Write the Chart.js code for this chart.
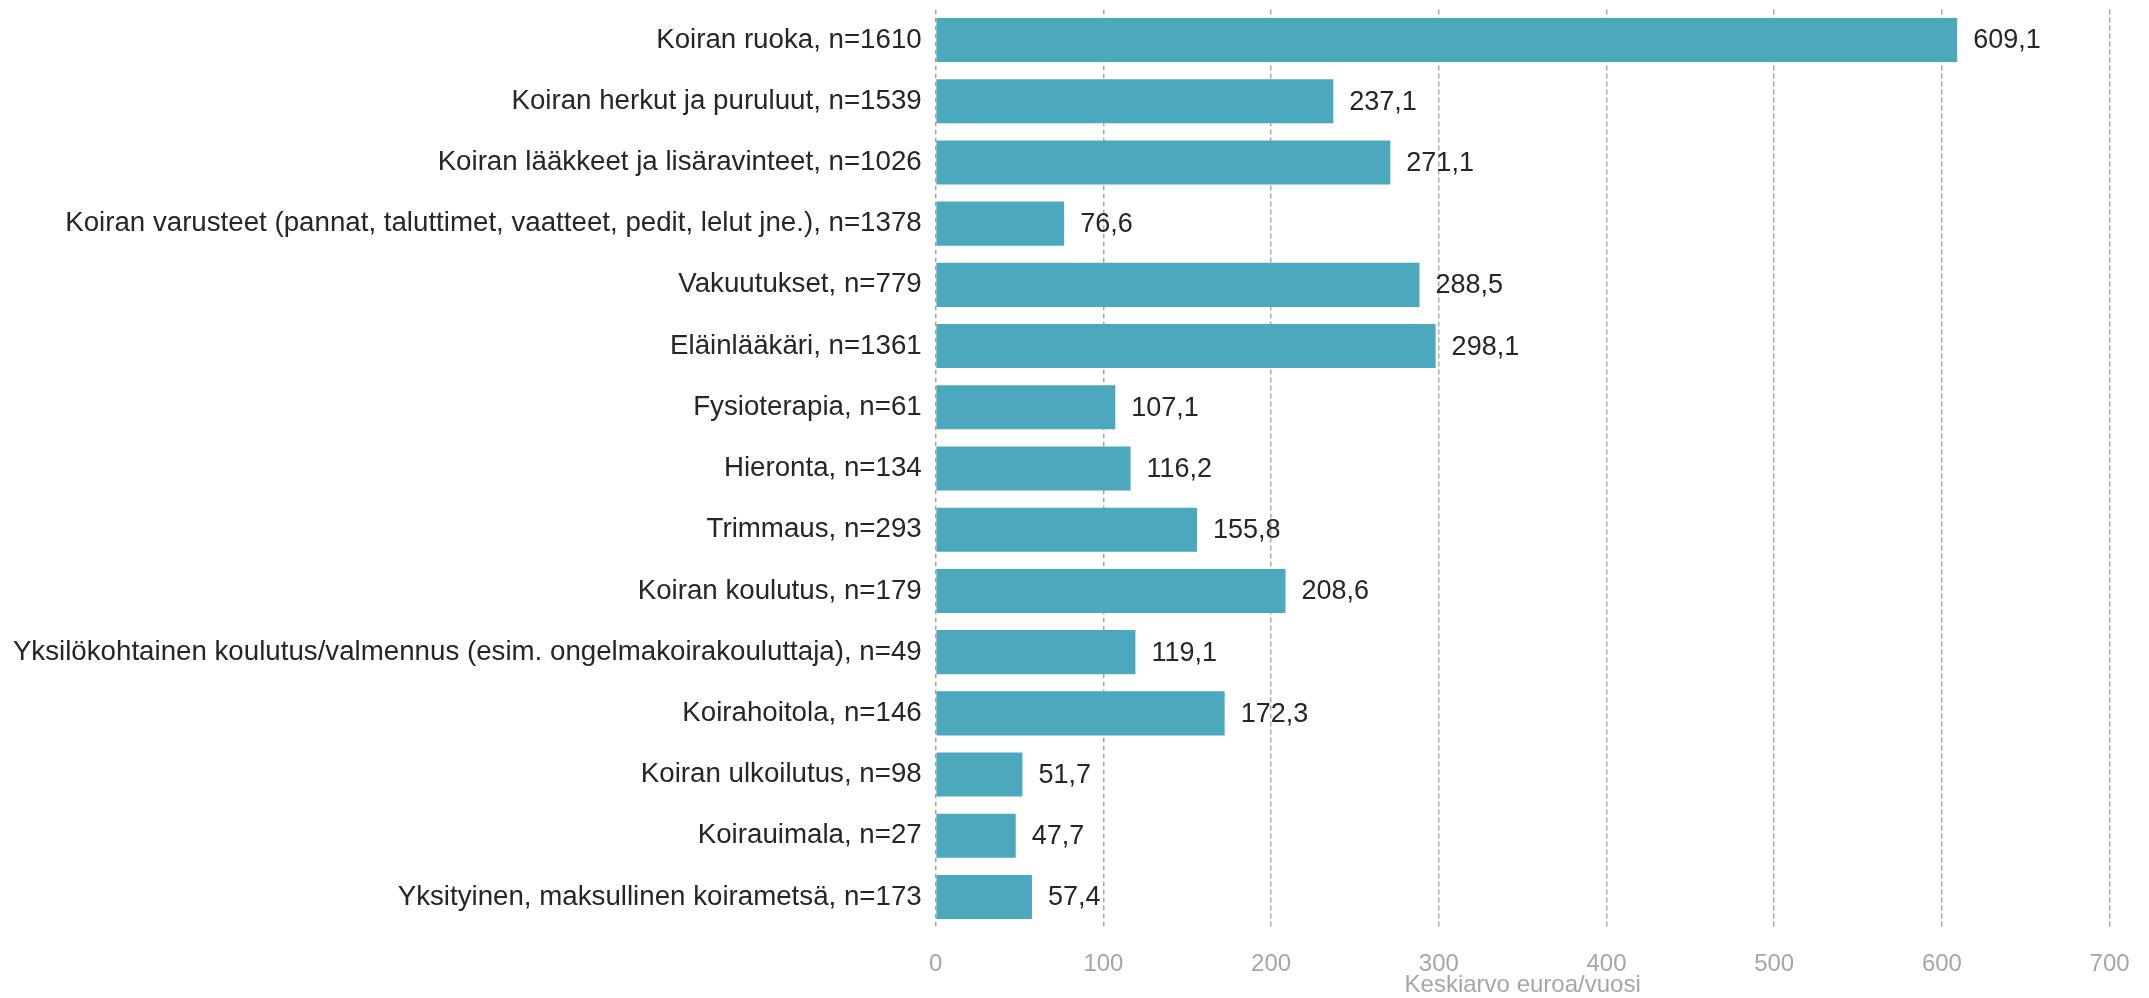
<!DOCTYPE html>
<html>
<head>
<meta charset="utf-8">
<script src="https://cdn.jsdelivr.net/npm/chart.js@4"></script>
<style>
  html, body { margin: 0; padding: 0; background: #fff; }
  #wrap { width: 2149px; height: 998px; }
</style>
</head>
<body>
<div id="wrap"><canvas id="bars" width="2149" height="998"></canvas></div>
<script>
// Koiran kulut, keskiarvo euroa/vuosi

const categories = [
    'Koiran ruoka, n=1610',
    'Koiran herkut ja puruluut, n=1539',
    'Koiran lääkkeet ja lisäravinteet, n=1026',
    'Koiran varusteet (pannat, taluttimet, vaatteet, pedit, lelut jne.), n=1378',
    'Vakuutukset, n=779',
    'Eläinlääkäri, n=1361',
    'Fysioterapia, n=61',
    'Hieronta, n=134',
    'Trimmaus, n=293',
    'Koiran koulutus, n=179',
    'Yksilökohtainen koulutus/valmennus (esim. ongelmakoirakouluttaja), n=49',
    'Koirahoitola, n=146',
    'Koiran ulkoilutus, n=98',
    'Koirauimala, n=27',
    'Yksityinen, maksullinen koirametsä, n=173'
];
const averages = [609.1, 237.1, 271.1, 76.6, 288.5, 298.1, 107.1, 116.2, 155.8, 208.6, 119.1, 172.3, 51.7, 47.7, 57.4];
const xTicks = [0, 100, 200, 300, 400, 500, 600, 700];
const xTitle = 'Keskiarvo euroa/vuosi';

const FONT = '"Liberation Sans", Arial, sans-serif';

function formatValue(v) {
    return v.toFixed(1).replace('.', ',');
}

const valueLabels = {
    id: 'valueLabels',
    afterDatasetsDraw(chart) {
        const ctx = chart.ctx;
        const meta = chart.getDatasetMeta(0);
        ctx.save();
        ctx.font = '27px ' + FONT;
        ctx.fillStyle = '#262626';
        ctx.textAlign = 'left';
        ctx.textBaseline = 'middle';
        meta.data.forEach((bar, i) => {
            ctx.fillText(formatValue(averages[i]), bar.x + 16, bar.y + 1);
        });
        ctx.restore();
    }
};

function loadChart() {
    const ctx = document.getElementById('bars');

    new Chart(ctx, {
        type: 'bar',
        data: {
            labels: categories,
            datasets: [{
                data: averages,
                backgroundColor: '#4ca8bd',
                borderWidth: 0,
                barPercentage: 0.72,
                categoryPercentage: 1
            }]
        },
        options: {
            indexAxis: 'y',
            responsive: false,
            animation: false,
            devicePixelRatio: 1,
            layout: {
                padding: { top: 9.4, right: 39.4, bottom: 0, left: 0 }
            },
            plugins: {
                legend: { display: false },
                tooltip: { enabled: false }
            },
            scales: {
                x: {
                    min: 0,
                    max: 700,
                    afterFit: function(scale) {
                        scale.height = 70.4;
                        scale.paddingLeft = 0;
                        scale.paddingRight = 0;
                    },
                    afterBuildTicks: function(scale) {
                        scale.ticks = xTicks.map(v => ({ value: v }));
                    },
                    grid: {
                        color: '#ababab',
                        lineWidth: 1.5,
                        drawTicks: false
                    },
                    border: { display: false, dash: [5, 3] },
                    ticks: {
                        padding: 22,
                        color: '#a6a6a6',
                        font: { family: FONT, size: 24 }
                    },
                    title: {
                        display: true,
                        text: xTitle,
                        color: '#a6a6a6',
                        padding: { top: 0, bottom: -2 },
                        font: { family: FONT, size: 24 }
                    }
                },
                y: {
                    afterFit: function(scale) {
                        scale.width = 935.7;
                        scale.paddingTop = 0;
                        scale.paddingBottom = 0;
                    },
                    grid: { display: false, drawTicks: false },
                    border: { display: false },
                    ticks: {
                        padding: 14,
                        color: '#262626',
                        font: { family: FONT, size: 27.7 }
                    }
                }
            }
        },
        plugins: [valueLabels]
    });
}

document.addEventListener('DOMContentLoaded', loadChart);
</script>
</body>
</html>
